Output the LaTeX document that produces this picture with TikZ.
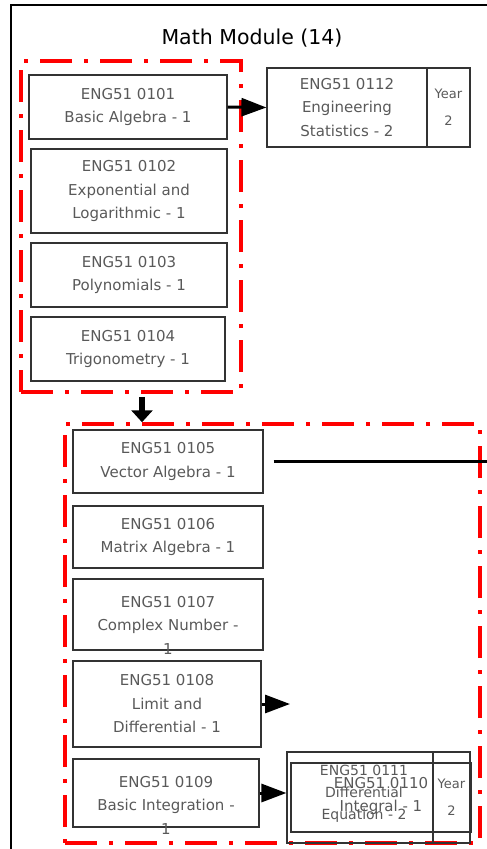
\documentclass[tikz,border=0pt]{standalone}
\usepackage{fontspec}
\setmainfont{DejaVu Sans}
\usetikzlibrary{arrows.meta, positioning}

\begin{document}
\begin{tikzpicture}[x=1pt, y=-1pt,
    course/.style={draw=black!80, line width=1.2pt, text=black!65, align=center, inner sep=0pt, font=\fontsize{15}{23.5}\selectfont},
    yearcell/.style={course, font=\fontsize{13}{27}\selectfont},
    modframe/.style={draw=red, line width=3.5pt, dash pattern=on 32pt off 12pt on 4pt off 12pt, inner sep=0pt},
    prereq/.style={line width=3pt, -{Triangle[length=25pt, width=18pt]}}]
    \useasboundingbox (0,0) rectangle (487,849);
    \draw[line width=1.5pt] (487,5) -- (11,5) -- (11,849);
    \node[font=\fontsize{20.5}{24}\selectfont] (title) at (252,38) {Math Module (14)};
    % first group
    \node[modframe, minimum width=220pt, minimum height=331pt] (mod1) at (131,226.5) {};
    \node[course, minimum width=198pt, minimum height=64pt] (c0101) at (128,107) {ENG51 0101\\Basic Algebra - 1};
    \node[course, minimum width=196pt, minimum height=84pt] (c0102) at (129,191) {ENG51 0102\\Exponential and\\Logarithmic - 1};
    \node[course, minimum width=196pt, minimum height=64pt] (c0103) at (129,275) {ENG51 0103\\Polynomials - 1};
    \node[course, minimum width=194pt, minimum height=64pt] (c0104) at (128,349) {ENG51 0104\\Trigonometry - 1};
    \node[course, minimum width=160pt, minimum height=79pt] (c0112) at (347,107.5) {ENG51 0112\\Engineering\\Statistics - 2};
    \node[yearcell, minimum width=43pt, minimum height=79pt] (y0112) at (448.5,107.5) {Year\\2};
    \draw[prereq] (c0101.east) -- (c0112.west);
    % second group
    \node[modframe, minimum width=415pt, minimum height=419pt] (mod2) at (272.5,633.5) {};
    \draw[line width=6pt, -{Triangle[length=12pt, width=21pt]}] ([xshift=11pt, yshift=-3pt]mod1.south) -- ([xshift=11pt]mod1.south |- mod2.north);
    \node[course, minimum width=190pt, minimum height=63pt] (c0105) at (168,461.5) {ENG51 0105\\Vector Algebra - 1};
    \node[course, minimum width=190pt, minimum height=62pt] (c0106) at (168,537) {ENG51 0106\\Matrix Algebra - 1};
    \node[course, minimum width=190pt, minimum height=71pt] (c0107) at (168,614.5) {};
    \node[course, draw=none] (t0107) at (168,625) {ENG51 0107\\Complex Number -\\1};
    \node[course, minimum width=188pt, minimum height=86pt] (c0108) at (167,704) {ENG51 0108\\Limit and\\Differential - 1};
    \node[course, minimum width=186pt, minimum height=68pt] (c0109) at (166,793) {};
    \node[course, draw=none] (t0109) at (166,805) {ENG51 0109\\Basic Integration -\\1};
    % two year-2 boxes drawn on top of each other
    \node[course, minimum width=146pt, minimum height=91pt] (c0110) at (360,797.5) {};
    \node[yearcell, minimum width=37pt, minimum height=91pt] (y0110) at (451.5,797.5) {Year\\2};
    \node[course, draw=none] (t0110) at (381,796) {ENG51 0110\\Integral - 1};
    \node[course, minimum width=142pt, minimum height=69pt] (c0111) at (362,797.5) {};
    \node[yearcell, minimum width=38pt, minimum height=69pt] (y0111) at (452,797.5) {};
    \node[course, draw=none, font=\fontsize{14}{22}\selectfont] (t0111) at (364,794) {ENG51 0111\\Differential\\Equation - 2};
    \coordinate (offpage) at (487,461.5);
    \coordinate (h0108) at (290,704);
    \draw[line width=3pt] ([xshift=10pt]c0105.east) -- (offpage);
    \draw[prereq] (c0108.east) -- (h0108);
    \draw[prereq] (c0109.east) -- (c0109.east -| c0110.west);
\end{tikzpicture}
\end{document}
